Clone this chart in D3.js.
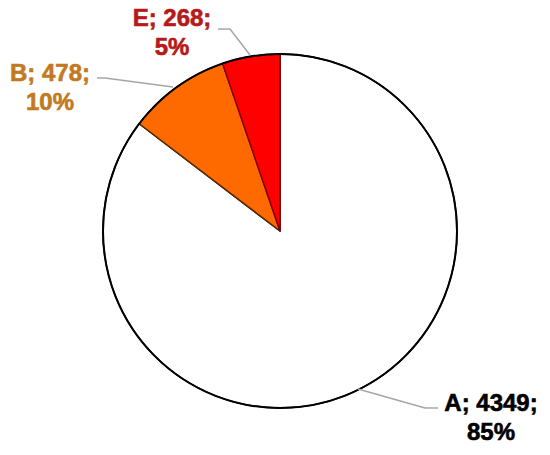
<!DOCTYPE html>
<html>
<head>
<meta charset="utf-8">
<script src="https://cdn.jsdelivr.net/npm/d3@7"></script>
<style>
  body { margin: 0; background: #fff; }
  text { font-family: "Liberation Sans", Arial, sans-serif; font-weight: bold; }
</style>
</head>
<body>
<svg id="chart" width="550" height="455"></svg>
<script>
// chart data
const categories = ['A', 'B', 'E'];
const values = [4349, 478, 268];
const percentLabels = ['85%', '10%', '5%'];
const fills = ['#ffffff', '#ff6a00', '#ff0000'];
const edgeColors = ['#000000', '#5a2a00', '#8b0000'];
const labelColors = ['#000000', '#c27a22', '#b81818'];

const cx = 280, cy = 231, radius = 177;

const svg = d3.select('#chart');
const g = svg.append('g').attr('transform', `translate(${cx},${cy})`);

const pie = d3.pie().sort(null).value(d => d.value);
const arc = d3.arc().innerRadius(0).outerRadius(radius);

const data = categories.map((c, i) => ({ name: c, value: values[i], pct: percentLabels[i], i }));
const arcs = pie(data);

// slices
g.selectAll('path.slice')
    .data(arcs)
    .join('path')
    .attr('class', 'slice')
    .attr('d', arc)
    .attr('fill', d => fills[d.data.i])
    .attr('stroke', d => edgeColors[d.data.i])
    .attr('stroke-width', 1.5)
    .attr('stroke-linejoin', 'round');

// outer ring
g.append('circle')
    .attr('r', radius)
    .attr('fill', 'none')
    .attr('stroke', '#000')
    .attr('stroke-width', 2);

// label placement (relative to pie center): text position + leader line points
const labelPos = {
    A: { x: 211, y: 180, line: [[78, 158], [145, 177], [158, 177]] },
    B: { x: -230, y: -150, line: [[-107, -144], [-175, -153], [-183, -153]] },
    E: { x: -108, y: -205, line: [[-30, -176], [-50, -202], [-62, -202]] }
};

arcs.forEach(d => {
    const p = labelPos[d.data.name];
    g.append('polyline')
        .attr('points', p.line.map(q => q.join(',')).join(' '))
        .attr('fill', 'none')
        .attr('stroke', '#a6a6a6')
        .attr('stroke-width', 1.5);

    const t = g.append('text')
        .attr('x', p.x)
        .attr('y', p.y)
        .attr('text-anchor', 'middle')
        .attr('font-size', 24)
        .attr('fill', labelColors[d.data.i])
        .attr('stroke', labelColors[d.data.i])
        .attr('stroke-width', 0.6);
    t.append('tspan').attr('x', p.x).attr('dy', 0).text(`${d.data.name}; ${d.data.value};`);
    t.append('tspan').attr('x', p.x).attr('dy', 29).text(d.data.pct);
});
</script>
</body>
</html>
